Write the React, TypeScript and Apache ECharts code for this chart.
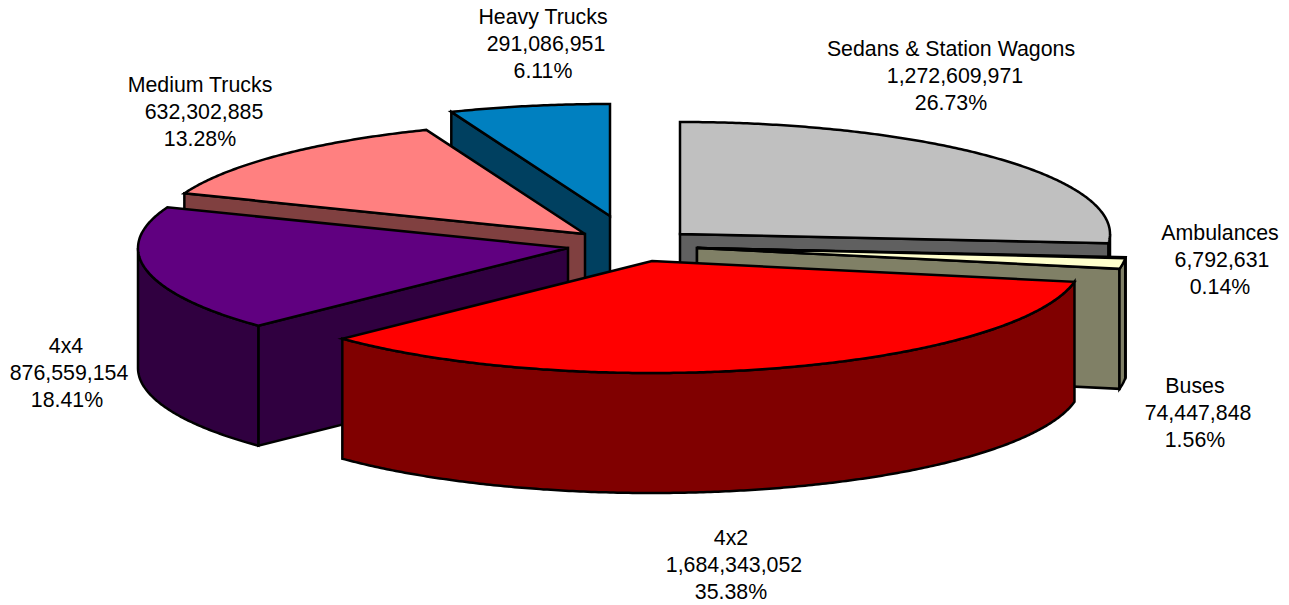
import React, { useEffect, useRef } from "react";
import * as echarts from "echarts";

const categories = ["Sedans & Station Wagons", "Ambulances", "Buses", "4x2", "4x4", "Medium Trucks", "Heavy Trucks"];
const unitValues = [1272609971, 6792631, 74447848, 1684343052, 876559154, 632302885, 291086951];
const percentLabels = ["26.73%", "0.14%", "1.56%", "35.38%", "18.41%", "13.28%", "6.11%"];

// Presentation only, one entry per category
const topColors = ["#c0c0c0", "#ffffcc", "#ffffcc", "#ff0000", "#600080", "#ff8080", "#0080c0"];
const sideColors = ["#606060", "#808066", "#808066", "#800000", "#300040", "#804040", "#004060"];
const apexes = [[680, 234], [697, 248], [697, 248], [652, 261], [568, 248], [585, 234], [610, 216]];
const labelAnchors = [[951, 49], [1220, 233], [1195, 386], [734, 538], [69, 346], [200, 85], [543, 17]];
const labelLineShifts = [[0, 4, 0], [0, 2, 0], [0, 3, 0], [-3, 0, -3], [-3, 0, -2], [0, 4, 0], [0, 3, 0]];
const drawOrder = [6, 5, 4, 0, 1, 2, 3];

const RX = 430;
const RY = 112;
const DEPTH = 120;
const LINE_STEP = 27;
const FONT = "21.33px 'Liberation Sans', Arial, sans-serif";

const total = unitValues.reduce((a, b) => a + b, 0);
const startShare = unitValues.map((_, i) => unitValues.slice(0, i).reduce((a, b) => a + b, 0) / total);

const rim = (apex: number[], deg: number, dy = 0) => {
  const t = (deg * Math.PI) / 180;
  return [apex[0] + RX * Math.sin(t), apex[1] - RY * Math.cos(t) + dy];
};

const arc = (apex: number[], from: number, to: number, dy = 0) => {
  const pts: number[][] = [];
  const n = Math.max(1, Math.ceil((to - from) / 0.5));
  for (let k = 0; k <= n; k++) pts.push(rim(apex, from + ((to - from) * k) / n, dy));
  return pts;
};

const renderSlice = (params: any) => {
  const i = drawOrder[params.dataIndex];
  const a1 = startShare[i] * 360;
  const a2 = a1 + (unitValues[i] / total) * 360;
  const apex = apexes[i];
  const base = [apex[0], apex[1] + DEPTH];
  const shapeStyle = (fill: string) => ({ fill, stroke: "#000000", lineWidth: 2.5, lineJoin: "miter", miterLimit: 10 });
  const poly = (points: number[][], fill: string) => ({ type: "polygon", shape: { points }, style: shapeStyle(fill) });
  const children: any[] = [];

  const cutFace = (deg: number) => {
    const r = rim(apex, deg);
    children.push(poly([apex, r, [r[0], r[1] + DEPTH], base], sideColors[i]));
  };
  if (Math.sin((a1 * Math.PI) / 180) < -1e-9) cutFace(a1);
  if (Math.sin((a2 * Math.PI) / 180) > 1e-9) cutFace(a2);

  const w1 = Math.max(a1, 90);
  const w2 = Math.min(a2, 270);
  if (w2 > w1) {
    children.push(poly([...arc(apex, w1, w2), ...arc(apex, w1, w2, DEPTH).reverse()], sideColors[i]));
  }
  children.push(poly([apex, ...arc(apex, a1, a2)], topColors[i]));

  const lines = [categories[i], unitValues[i].toLocaleString("en-US"), percentLabels[i]];
  lines.forEach((text, k) => {
    children.push({
      type: "text",
      style: {
        text,
        x: labelAnchors[i][0] + labelLineShifts[i][k],
        y: labelAnchors[i][1] + k * LINE_STEP,
        font: FONT,
        fill: "#000000",
        align: "center",
        verticalAlign: "middle",
      },
    });
  });
  return { type: "group", children };
};

export default function App() {
  const ref = useRef<HTMLDivElement>(null);
  useEffect(() => {
    document.body.style.margin = "0";
    const chart = echarts.init(ref.current!, undefined, { renderer: "svg" });
    chart.setOption({
      animation: false,
      backgroundColor: "#ffffff",
      series: [
        {
          type: "custom",
          coordinateSystem: "none",
          silent: true,
          clip: false,
          renderItem: renderSlice,
          data: drawOrder.map((i) => unitValues[i]),
        },
      ],
    });
    return () => chart.dispose();
  }, []);
  return <div ref={ref} style={{ width: 1289, height: 605 }} />;
}
